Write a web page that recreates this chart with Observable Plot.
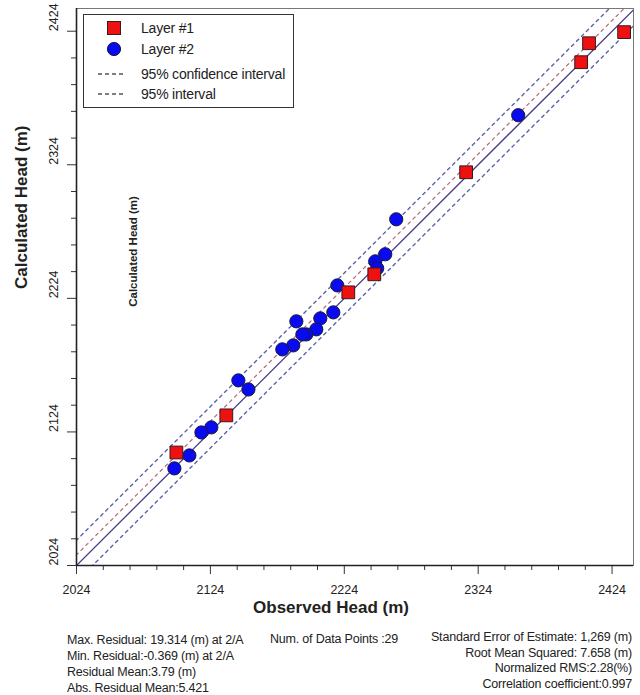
<!DOCTYPE html>
<html>
<head>
<meta charset="utf-8">
<script src="https://cdn.jsdelivr.net/npm/d3@7"></script>
<script src="https://cdn.jsdelivr.net/npm/@observablehq/plot@0.6"></script>
<style>
  html, body { margin: 0; padding: 0; background: #fff; }
  body { font-family: "Liberation Sans", Arial, sans-serif; color: #222; }
  #wrap { position: relative; width: 640px; height: 695px; overflow: hidden; }
  #legend { position: absolute; left: 83px; top: 14px; width: 209px; height: 92px;
    border: 1.5px solid #333; background: #fff; font-size: 14px; letter-spacing: -0.2px; }
  #legend .row { position: absolute; left: 0; height: 18px; width: 100%; }
  #legend .row svg { position: absolute; left: 12px; top: 0; }
  #legend .row span { position: absolute; left: 57px; top: 0; line-height: 18px; }
  .stats { position: absolute; font-size: 12.5px; letter-spacing: -0.2px; line-height: 16px; color: #222; }
</style>
</head>
<body>
<div id="wrap">
  <div id="chart"></div>
  <div id="legend"></div>
  <div class="stats" id="statsLeft" style="left:67px; top:632px;"></div>
  <div class="stats" id="statsMid" style="left:270px; top:631px;"></div>
  <div class="stats" id="statsRight" style="right:8px; top:630px; text-align:right; line-height:15.5px;"></div>
</div>
<script>
// ---- Data ----
const layer1Observed   = [2433.0, 2406.8, 2400.9, 2315.0, 2246.4, 2227.0, 2135.9, 2098.6];
const layer1Calculated = [2423.3, 2415.0, 2400.8, 2318.4, 2242.0, 2228.5, 2136.4, 2108.6];

const layer2Observed   = [2353.9, 2262.8, 2254.6, 2247.1, 2248.6, 2218.8, 2188.2, 2206.1, 2215.8, 2203.1,
                          2195.6, 2192.7, 2185.9, 2177.7, 2144.9, 2152.4, 2124.7, 2117.3, 2108.3, 2097.1];
const layer2Calculated = [2361.1, 2283.2, 2257.0, 2251.7, 2246.5, 2233.7, 2206.8, 2209.0, 2213.5, 2200.8,
                          2197.0, 2197.0, 2188.8, 2185.8, 2162.6, 2155.8, 2127.4, 2123.6, 2106.4, 2096.7];

const majorTicks = [2024, 2124, 2224, 2324, 2424];
const minorTicks = [2044, 2064, 2084, 2104, 2144, 2164, 2184, 2204, 2244, 2264, 2284, 2304,
                    2344, 2364, 2384, 2404];
const axisDomain = [2024, 2440];

const refLineNames   = ["1:1 line", "confidence", "interval upper", "interval lower"];
const refLineOffsets = [0, 8, 19, -12];

const legendLabels = ["Layer #1", "Layer #2", "95% confidence interval", "95% interval"];

const statsLeft  = ["Max. Residual: 19.314 (m) at 2/A", "Min. Residual:-0.369 (m) at 2/A",
                    "Residual Mean:3.79 (m)", "Abs. Residual Mean:5.421"];
const statsMid   = ["Num. of Data Points :29"];
const statsRight = ["Standard Error of Estimate: 1,269 (m)", "Root Mean Squared: 7.658 (m)",
                    "Normalized RMS:2.28(%)", "Correlation coefficient:0.997"];

const xTitle = "Observed Head (m)";
const yTitle = "Calculated Head (m)";

// ---- Build tables ----
const layer1 = layer1Observed.map((x, i) => ({x, y: layer1Calculated[i]}));
const layer2 = layer2Observed.map((x, i) => ({x, y: layer2Calculated[i]}));
const refLines = refLineNames.map((name, i) => ({
  name,
  pts: [{x: axisDomain[0] - 30, y: axisDomain[0] - 30 + refLineOffsets[i]},
        {x: axisDomain[1] + 30, y: axisDomain[1] + 30 + refLineOffsets[i]}]
}));
const lineStyle = {
  "1:1 line":       {stroke: "#4a3a8a", strokeWidth: 1.3, dash: null},
  "confidence":     {stroke: "#b36a7a", strokeWidth: 1.2, dash: "3,4"},
  "interval upper": {stroke: "#5a64a8", strokeWidth: 1.4, dash: "3,4"},
  "interval lower": {stroke: "#5a64a8", strokeWidth: 1.4, dash: "3,4"}
};

const font = "Liberation Sans, Arial, sans-serif";

const chart = Plot.plot({
  width: 640,
  height: 625,
  marginTop: 8,
  marginLeft: 76,
  marginRight: 7,
  marginBottom: 60,
  style: {fontFamily: font, color: "#222", background: "#fff"},
  x: {domain: axisDomain, axis: null},
  y: {domain: [2024, 2441], axis: null},
  marks: [
    Plot.frame({stroke: "#777", strokeWidth: 1}),
    ...refLines.map(l => Plot.line(l.pts, {
      x: "x", y: "y", clip: true,
      stroke: lineStyle[l.name].stroke,
      strokeWidth: lineStyle[l.name].strokeWidth,
      strokeDasharray: lineStyle[l.name].dash
    })),
    Plot.dot(layer2, {x: "x", y: "y", r: 6.6, symbol: "circle", fill: "#0a0af0", stroke: "#1a1a3a", strokeWidth: 1}),
    Plot.dot(layer1, {x: "x", y: "y", r: 7.2, symbol: "square", fill: "#ee1111", stroke: "#3a1a1a", strokeWidth: 1}),
    // axes
    Plot.axisX(minorTicks, {tickSize: 5, tickFormat: () => "", stroke: "#333", label: null}),
    Plot.axisX(majorTicks, {tickSize: 9, tickPadding: 11, tickFormat: d => String(d), fontSize: 12.5, stroke: "#333", fill: "#222", label: null}),
    Plot.axisY(minorTicks, {tickSize: 5, tickFormat: () => "", stroke: "#333", label: null}),
    Plot.axisY(majorTicks, {tickSize: 9, tickFormat: () => "", stroke: "#333", label: null}),
    Plot.text(majorTicks, {y: d => d, text: d => String(d), frameAnchor: "left", dx: -23, rotate: -90, fontSize: 12.5, fill: "#222"}),
    Plot.ruleX([axisDomain[0]], {stroke: "#222", strokeWidth: 1.6}),
    Plot.ruleY([2024], {stroke: "#222", strokeWidth: 1.6}),
    // titles
    Plot.text([xTitle], {text: d => d, frameAnchor: "bottom", dy: 47, dx: -24, fontSize: 17, fontWeight: "bold", fill: "#222"}),
    Plot.text([yTitle], {text: d => d, frameAnchor: "left", dx: -55, dy: 2, rotate: -90, fontSize: 17, fontWeight: "bold", fill: "#222"}),
    Plot.text([yTitle], {text: d => d, frameAnchor: "top-left", textAnchor: "middle", dx: 52, dy: 243, rotate: -90, fontSize: 11.5, fontWeight: "bold", fill: "#222"})
  ]
});
document.getElementById("chart").appendChild(chart);

// ---- Legend ----
const legend = document.getElementById("legend");
const rowTops = [4, 25, 50, 70];
const swatches = [
  '<svg width="40" height="18"><rect x="11.5" y="2.5" width="13" height="13" fill="#ee1111" stroke="#3a1a1a" stroke-width="1"/></svg>',
  '<svg width="40" height="18"><circle cx="18" cy="9" r="6.6" fill="#0a0af0" stroke="#1a1a3a" stroke-width="1"/></svg>',
  '<svg width="40" height="18"><line x1="2" y1="9" x2="30" y2="9" stroke="#555" stroke-width="1.3" stroke-dasharray="4,3"/></svg>',
  '<svg width="40" height="18"><line x1="2" y1="9" x2="30" y2="9" stroke="#555" stroke-width="1.3" stroke-dasharray="4,3"/></svg>'
];
legendLabels.forEach((lab, i) => {
  const row = document.createElement("div");
  row.className = "row";
  row.style.top = rowTops[i] + "px";
  row.innerHTML = swatches[i] + "<span></span>";
  row.querySelector("span").textContent = lab;
  legend.appendChild(row);
});

// ---- Stats ----
function fill(id, lines) {
  const el = document.getElementById(id);
  lines.forEach(t => { const d = document.createElement("div"); d.textContent = t; el.appendChild(d); });
}
fill("statsLeft", statsLeft);
fill("statsMid", statsMid);
fill("statsRight", statsRight);
</script>
</body>
</html>
